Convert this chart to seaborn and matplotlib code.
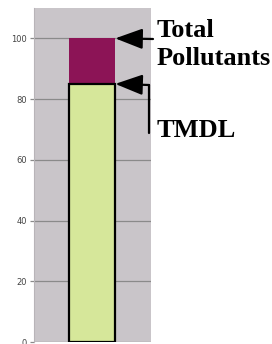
import matplotlib
matplotlib.use("Agg")
import matplotlib.pyplot as plt
import seaborn as sns
import pandas as pd
from matplotlib.lines import Line2D

categories = [""]
total_pollutants = [100]
tmdl = [85]
yticks = [0, 20, 40, 60, 80, 100]

sns.set_style("white")
plt.rcParams['font.family'] = ['DejaVu Sans']

fig = plt.figure(figsize=(2.72, 3.44), dpi=100)
ax = fig.add_axes([34/272, 2/344, 117/272, 334/344])
ax.set_facecolor("#c9c5c9")

df = pd.DataFrame({"cat": categories, "total": total_pollutants, "tmdl": tmdl})
sns.barplot(data=df, x="cat", y="total", color="#8c1456", width=0.8,
            saturation=1, edgecolor="none", ax=ax, zorder=3)
sns.barplot(data=df, x="cat", y="tmdl", color="#d6e79a", width=0.8,
            saturation=1, edgecolor="black", linewidth=1.6, ax=ax, zorder=4)

ax.set_xlim(-1.01, 1.02)
ax.set_ylim(0, 110)
ax.set_yticks(yticks)
ax.set_yticklabels([str(v) for v in yticks], fontsize=6, color="#444444")
ax.set_xticks([])
ax.set_xlabel("")
ax.set_ylabel("")
ax.yaxis.grid(True, color="#8a8a8a", linewidth=0.9, zorder=0)
ax.set_axisbelow(True)
ax.tick_params(axis="y", length=3, color="#8a8a8a", width=0.9, pad=2, left=True)
for s in ax.spines.values():
    s.set_visible(False)
ax.spines["left"].set_visible(True)
ax.spines["left"].set_color("#b8b4b8")

H = 344
arrow = dict(arrowstyle="-|>,head_length=1.2,head_width=0.45", mutation_scale=14,
             lw=1.6, color="black", shrinkA=0, shrinkB=0)
ax.annotate("", xy=(0.4, 100), xycoords="data", xytext=(153, H - 39),
            textcoords="figure pixels", arrowprops=arrow, annotation_clip=False)
ax.annotate("", xy=(0.4, 85), xycoords="data", xytext=(149, H - 85),
            textcoords="figure pixels", arrowprops=arrow, annotation_clip=False)
fig.add_artist(Line2D([149/272, 149/272], [(H - 85)/H, (H - 133)/H],
                      color="black", lw=1.6, transform=fig.transFigure))

fig.text(157/272, (H - 37)/H, "Total", fontsize=19, fontweight="bold", color="black",
         family="Liberation Serif", va="baseline", ha="left")
fig.text(157/272, (H - 65)/H, "Pollutants", fontsize=19, fontweight="bold", color="black",
         family="Liberation Serif", va="baseline", ha="left")
fig.text(157/272, (H - 137)/H, "TMDL", fontsize=19, fontweight="bold", color="black",
         family="Liberation Serif", va="baseline", ha="left")

fig.savefig("out.png", dpi=100)
